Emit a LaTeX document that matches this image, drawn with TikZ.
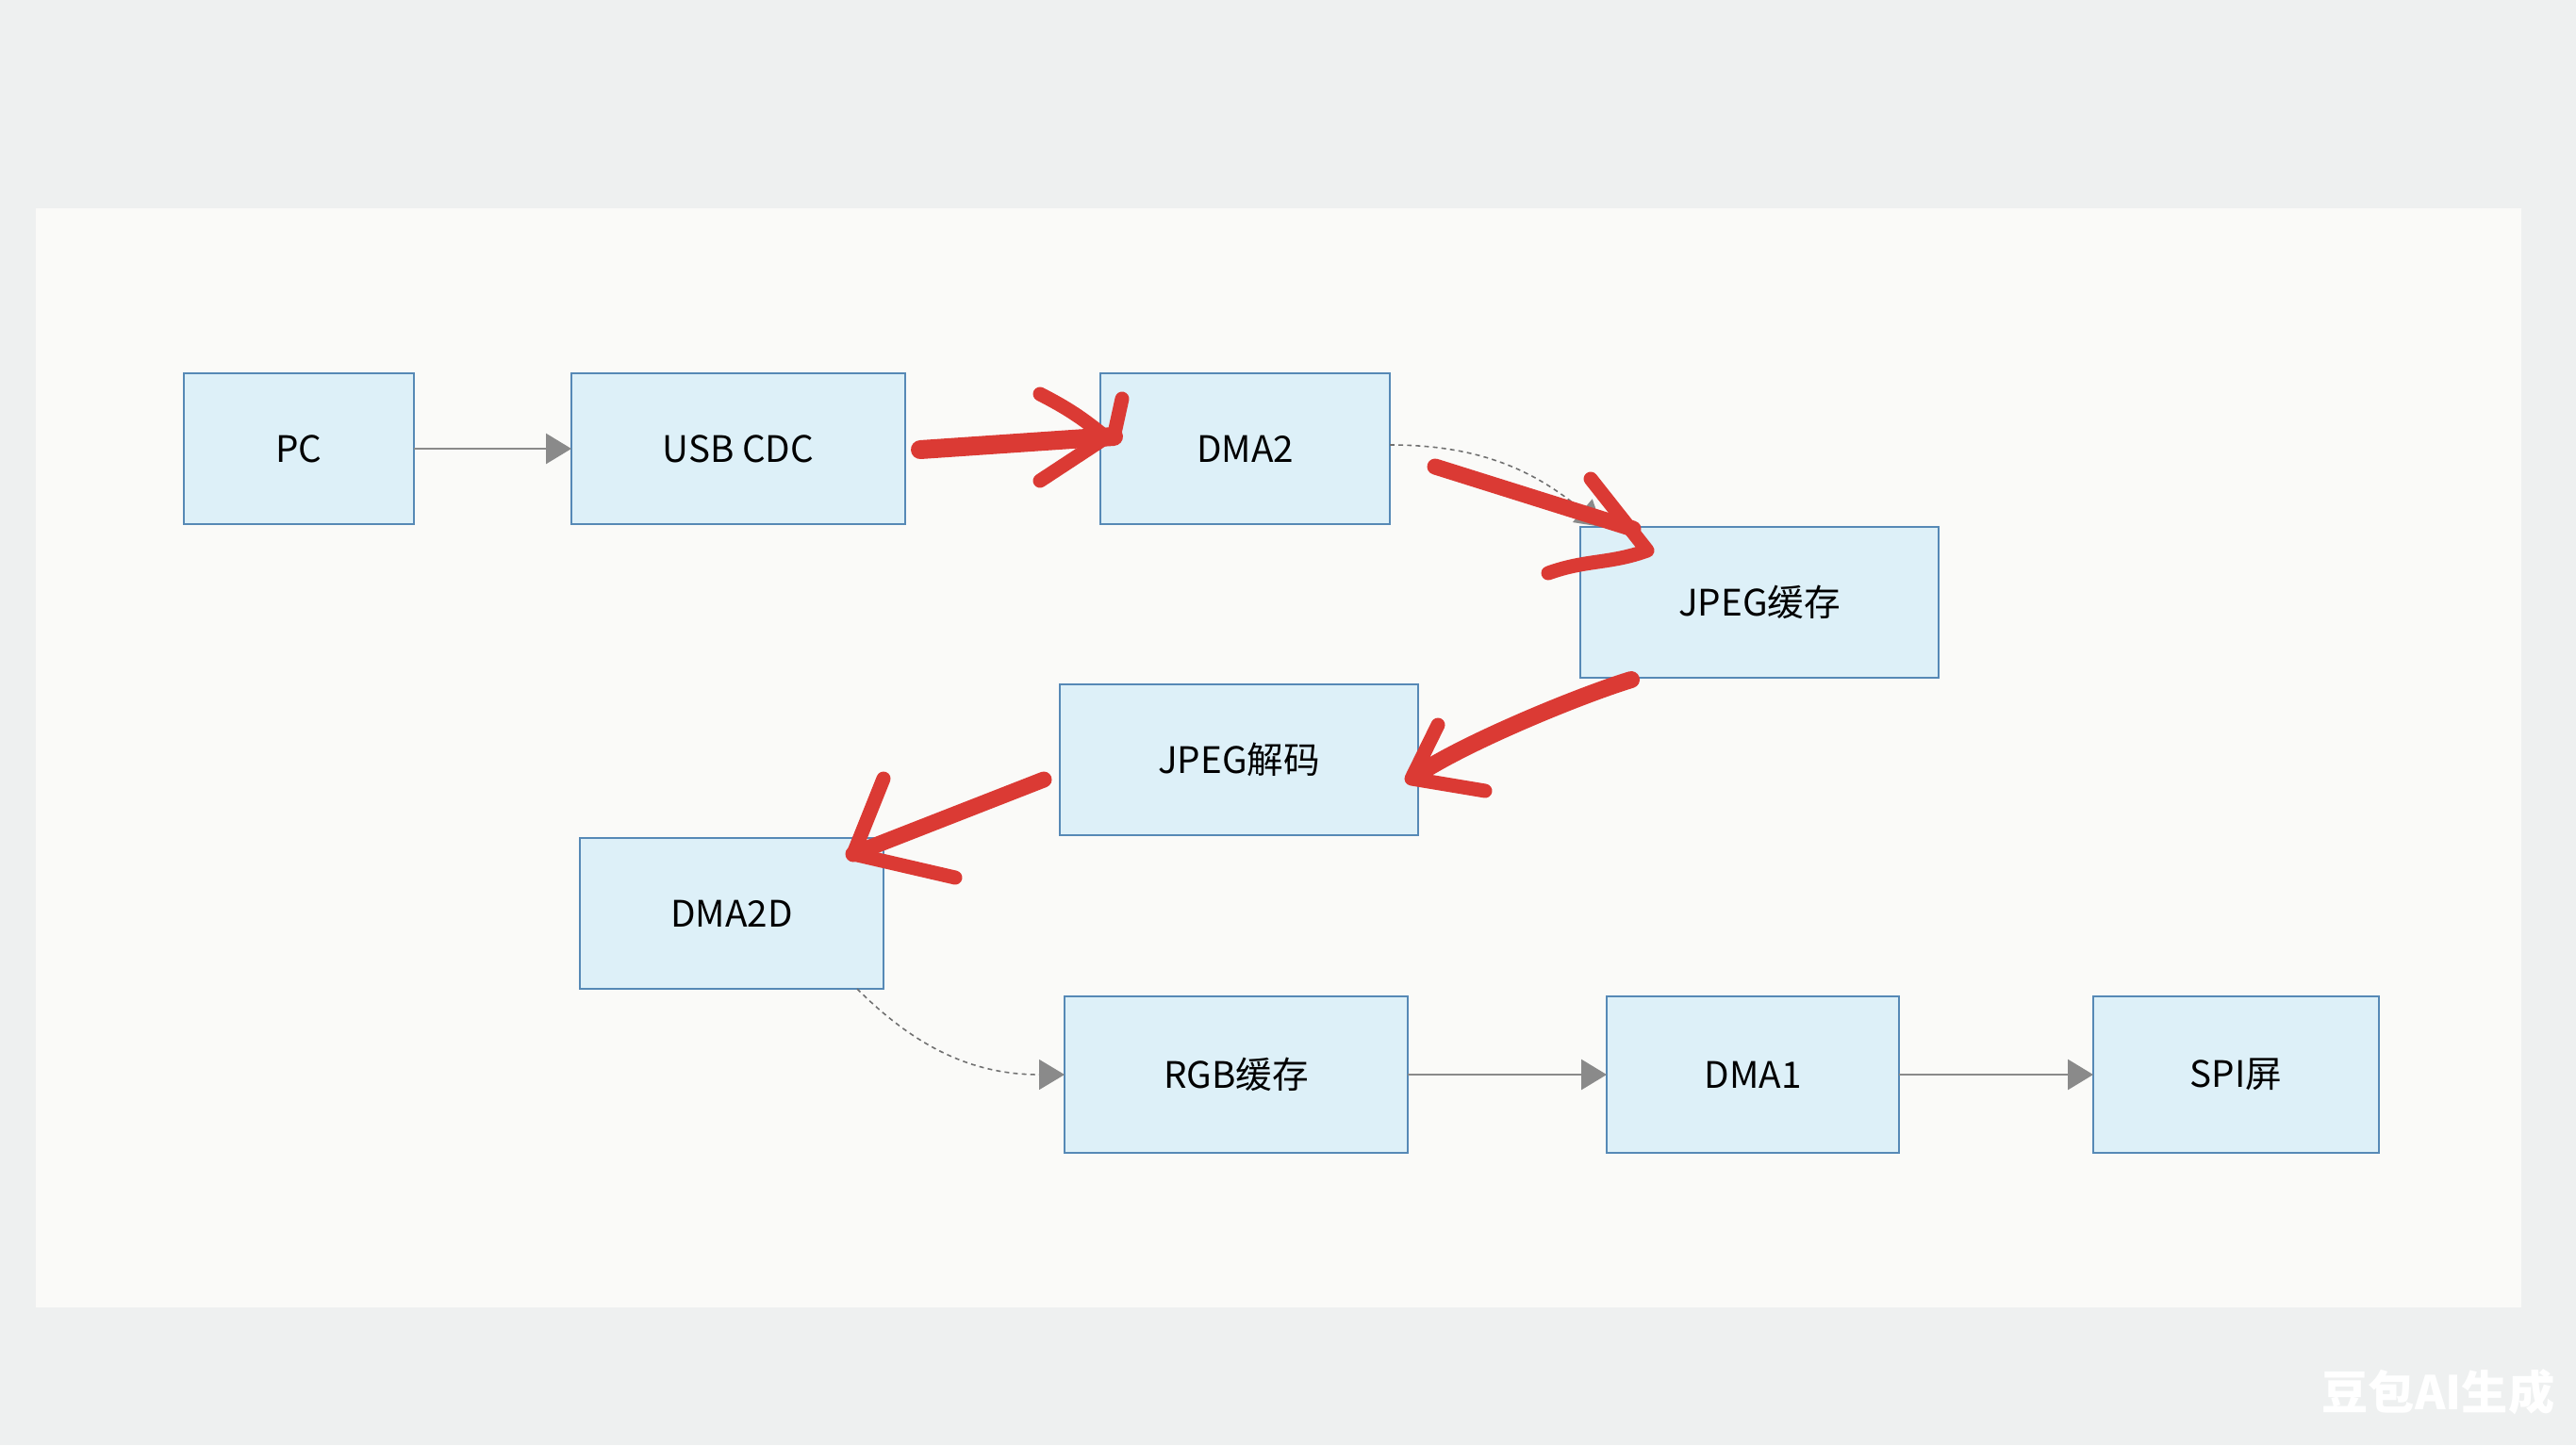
\documentclass[tikz,border=0pt]{standalone}
\usepackage{fontspec}
\newfontfamily\cjk{Noto Sans CJK SC}
\usepackage{tikz}
\usetikzlibrary{arrows.meta, positioning}
\definecolor{dfpage}{HTML}{EEF0F0}
\definecolor{dfpanel}{HTML}{FAFAF8}
\definecolor{dffill}{HTML}{DDF0F8}
\definecolor{dfline}{HTML}{5689B6}
\definecolor{dfgray}{HTML}{8A8A8A}
\definecolor{dfdash}{HTML}{707070}
\definecolor{dfred}{HTML}{DB3A34}
\tikzset{
  dfbox/.style   = {rectangle, draw=dfline, fill=dffill, line width=0.8pt,
                    font=\cjk\fontsize{11pt}{13pt}\selectfont,
                    minimum height=16mm, inner sep=2pt, outer sep=0pt},
  dfarrow/.style = {-{Triangle[length=2.7mm, width=3.2mm, color=dfgray]},
                    draw=dfgray, line width=0.8pt},
  dfdot/.style   = {dfarrow, draw=dfdash, line width=0.45pt,
                    dash pattern=on 1.4pt off 1.2pt},
  dfmark/.style  = {draw=dfred, line width=1.5mm, line cap=round, line join=round},
}

\begin{document}
\begin{tikzpicture}[x=1mm, y=1mm]
  % sheet and panel
  \fill[dfpage] (0,0) rectangle (273.2,-153.3);
  \fill[dfpanel] (3.8,-22.1) rectangle (267.4,-138.7);
  \useasboundingbox (0,0) rectangle (273.2,-153.3);

  \node[dfbox, minimum width=24.4mm] (pc) at (31.7,-47.6) {PC};
  \node[dfbox, minimum width=35.4mm, right=16.7mm of pc] (usb) {USB CDC};
  \node[dfbox, minimum width=30.7mm, right=20.7mm of usb] (dma2) {DMA2};
  \node[dfbox, minimum width=38mm, below right=0.3mm and 20.2mm of dma2] (jbuf) {JPEG缓存};
  \node[dfbox, minimum width=38mm, below left=0.7mm and 17.2mm of jbuf] (jdec) {JPEG解码};
  \node[dfbox, minimum width=32.2mm, below left=0.3mm and 18.7mm of jdec] (d2d) {DMA2D};
  \node[dfbox, minimum width=36.4mm, minimum height=16.6mm,
        below right=0.8mm and 19.2mm of d2d] (rgb) {RGB缓存};
  \node[dfbox, minimum width=31mm, minimum height=16.6mm, right=21.1mm of rgb] (dma1) {DMA1};
  \node[dfbox, minimum width=30.3mm, minimum height=16.6mm, right=20.6mm of dma1] (spi) {SPI屏};

  \draw[dfarrow] (pc) -- (usb);
  \draw[dfdot] ([yshift=0.4mm]dma2.east) to[out=0, in=140] ([xshift=2.3mm]jbuf.north west);
  \draw[dfdot] ([xshift=-2.8mm]d2d.south east) to[out=-45, in=180] (rgb.west);
  \draw[dfarrow] (rgb) -- (dma1);
  \draw[dfarrow] (dma1) -- (spi);

  % red marker strokes
  \draw[dfmark, line width=2mm] ([shift={(1.6,-0.1)}]usb.east) -- ([shift={(1.4,1.3)}]dma2.west);
  \draw[dfmark] ([shift={(-6.4,5.8)}]dma2.west) to[bend left=6] ([shift={(0.6,1.2)}]dma2.west)
                -- ([shift={(-6.4,-3.4)}]dma2.west);
  \draw[dfmark] ([shift={(2.3,5.3)}]dma2.west) -- ([shift={(1.4,1.2)}]dma2.west);

  \draw[dfmark, line width=1.7mm] ([shift={(4.8,-1.9)}]dma2.east) -- ([shift={(5.6,-0.2)}]jbuf.north west);
  \draw[dfmark] ([shift={(1.1,5.1)}]jbuf.north west) -- ([shift={(7.1,-2.5)}]jbuf.north west)
                to[out=-160, in=20] ([shift={(-3.4,-4.9)}]jbuf.north west);

  \draw[dfmark, line width=1.8mm] ([shift={(5.4,-0.2)}]jbuf.south west) to[out=197, in=35, looseness=0.6]
                ([shift={(-0.4,-1.8)}]jdec.east);
  \draw[dfmark] ([shift={(2.1,3.7)}]jdec.east) -- ([shift={(-0.7,-2.0)}]jdec.east)
                -- ([shift={(7.1,-3.3)}]jdec.east);

  \draw[dfmark, line width=1.7mm] ([shift={(-1.7,-2.1)}]jdec.west) -- ([shift={(-3.2,-1.7)}]d2d.north east);
  \draw[dfmark] ([shift={(0.0,6.3)}]d2d.north east) -- ([shift={(-3.2,-1.7)}]d2d.north east)
                -- ([shift={(7.6,-4.2)}]d2d.north east);

  \node[font=\cjk\bfseries\fontsize{14pt}{14pt}\selectfont, text=white] (mark) at (258.6,-147.7) {豆包AI生成};
\end{tikzpicture}
\end{document}
